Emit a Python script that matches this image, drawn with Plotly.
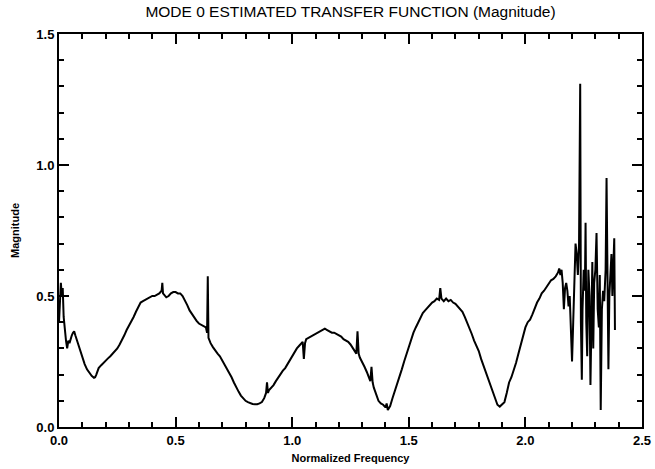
import plotly.graph_objects as go

# Normalized frequency samples and estimated transfer-function magnitude
freq = [
    0.000, 0.004, 0.008, 0.012, 0.016, 0.020, 0.025, 0.030, 0.035, 0.040,
    0.045, 0.050, 0.055, 0.060, 0.065, 0.070, 0.080, 0.090, 0.100, 0.110,
    0.120, 0.130, 0.140, 0.150, 0.155, 0.160, 0.170, 0.180, 0.190, 0.200,
    0.210, 0.220, 0.230, 0.240, 0.250, 0.260, 0.270, 0.280, 0.290, 0.300,
    0.310, 0.320, 0.330, 0.340, 0.350, 0.360, 0.370, 0.380, 0.390, 0.400,
    0.410, 0.420, 0.430, 0.440, 0.443, 0.446, 0.450, 0.460, 0.470, 0.480,
    0.490, 0.500, 0.510, 0.520, 0.530, 0.540, 0.550, 0.560, 0.570, 0.580,
    0.590, 0.600, 0.610, 0.620, 0.630, 0.635, 0.638, 0.641, 0.645, 0.650,
    0.660, 0.670, 0.680, 0.690, 0.700, 0.710, 0.720, 0.730, 0.740, 0.750,
    0.760, 0.770, 0.780, 0.790, 0.800, 0.810, 0.820, 0.830, 0.840, 0.850,
    0.860, 0.870, 0.880, 0.888, 0.892, 0.896, 0.900, 0.910, 0.920, 0.930,
    0.940, 0.950, 0.960, 0.970, 0.980, 0.990, 1.000, 1.010, 1.020, 1.030,
    1.040, 1.045, 1.050, 1.055, 1.060, 1.070, 1.080, 1.090, 1.100, 1.110,
    1.120, 1.130, 1.140, 1.150, 1.160, 1.170, 1.180, 1.190, 1.200, 1.210,
    1.220, 1.230, 1.240, 1.250, 1.260, 1.270, 1.275, 1.280, 1.285, 1.290,
    1.300, 1.310, 1.320, 1.330, 1.335, 1.340, 1.345, 1.350, 1.360, 1.370,
    1.380, 1.390, 1.400, 1.405, 1.410, 1.420, 1.430, 1.440, 1.450, 1.460,
    1.470, 1.480, 1.490, 1.500, 1.510, 1.520, 1.530, 1.540, 1.550, 1.560,
    1.570, 1.580, 1.590, 1.600, 1.610, 1.620, 1.630, 1.635, 1.640, 1.650,
    1.660, 1.670, 1.680, 1.690, 1.700, 1.710, 1.720, 1.730, 1.740, 1.750,
    1.760, 1.770, 1.780, 1.790, 1.800, 1.810, 1.820, 1.830, 1.840, 1.850,
    1.860, 1.870, 1.880, 1.890, 1.900, 1.910, 1.920, 1.930, 1.940, 1.950,
    1.960, 1.970, 1.980, 1.990, 2.000, 2.010, 2.020, 2.030, 2.040, 2.050,
    2.060, 2.070, 2.080, 2.090, 2.100, 2.110, 2.120, 2.130, 2.140, 2.145,
    2.150, 2.155, 2.160, 2.165, 2.170, 2.175, 2.180, 2.185, 2.190, 2.195,
    2.200, 2.205, 2.210, 2.215, 2.220, 2.225, 2.230, 2.235, 2.238, 2.242,
    2.245, 2.250, 2.255, 2.258, 2.261, 2.265, 2.270, 2.275, 2.279, 2.283,
    2.287, 2.291, 2.295, 2.300, 2.305, 2.310, 2.315, 2.319, 2.323, 2.328,
    2.333, 2.338, 2.344, 2.348, 2.352, 2.356, 2.360, 2.365, 2.369, 2.373,
    2.378, 2.381, 2.384,
]

magnitude = [
    0.400, 0.520, 0.550, 0.500, 0.530, 0.420, 0.360, 0.330, 0.300, 0.330,
    0.320, 0.340, 0.350, 0.360, 0.365, 0.350, 0.320, 0.290, 0.260, 0.240,
    0.220, 0.205, 0.195, 0.188, 0.190, 0.200, 0.225, 0.235, 0.245, 0.255,
    0.262, 0.270, 0.280, 0.290, 0.300, 0.315, 0.330, 0.350, 0.370, 0.385,
    0.400, 0.420, 0.440, 0.460, 0.475, 0.480, 0.485, 0.490, 0.495, 0.500,
    0.500, 0.505, 0.510, 0.520, 0.550, 0.510, 0.505, 0.495, 0.500, 0.510,
    0.515, 0.515, 0.510, 0.510, 0.500, 0.485, 0.465, 0.445, 0.430, 0.415,
    0.405, 0.395, 0.390, 0.385, 0.380, 0.360, 0.575, 0.340, 0.330, 0.320,
    0.305, 0.290, 0.280, 0.270, 0.255, 0.235, 0.220, 0.205, 0.190, 0.170,
    0.150, 0.135, 0.120, 0.110, 0.100, 0.095, 0.090, 0.088, 0.087, 0.087,
    0.090, 0.095, 0.110, 0.130, 0.170, 0.130, 0.140, 0.150, 0.160, 0.175,
    0.190, 0.200, 0.215, 0.225, 0.240, 0.260, 0.275, 0.290, 0.300, 0.310,
    0.320, 0.325, 0.260, 0.320, 0.335, 0.340, 0.345, 0.350, 0.355, 0.360,
    0.365, 0.370, 0.375, 0.370, 0.365, 0.360, 0.360, 0.355, 0.350, 0.345,
    0.335, 0.330, 0.325, 0.315, 0.300, 0.290, 0.280, 0.365, 0.280, 0.265,
    0.250, 0.230, 0.210, 0.190, 0.175, 0.230, 0.170, 0.150, 0.120, 0.100,
    0.090, 0.085, 0.075, 0.090, 0.065, 0.080, 0.110, 0.140, 0.165, 0.190,
    0.220, 0.250, 0.280, 0.310, 0.335, 0.360, 0.380, 0.400, 0.420, 0.435,
    0.445, 0.455, 0.465, 0.475, 0.480, 0.490, 0.485, 0.530, 0.490, 0.480,
    0.490, 0.480, 0.485, 0.475, 0.470, 0.460, 0.450, 0.440, 0.420, 0.400,
    0.380, 0.355, 0.330, 0.310, 0.290, 0.260, 0.235, 0.210, 0.185, 0.160,
    0.135, 0.110, 0.085, 0.078, 0.085, 0.095, 0.130, 0.170, 0.190, 0.215,
    0.245, 0.280, 0.315, 0.350, 0.380, 0.400, 0.410, 0.430, 0.455, 0.475,
    0.490, 0.510, 0.520, 0.535, 0.545, 0.560, 0.565, 0.575, 0.590, 0.605,
    0.580, 0.600, 0.550, 0.450, 0.530, 0.550, 0.520, 0.460, 0.500, 0.400,
    0.250, 0.400, 0.620, 0.700, 0.660, 0.580, 0.700, 1.310, 0.400, 0.180,
    0.450, 0.600, 0.520, 0.780, 0.400, 0.270, 0.600, 0.500, 0.160, 0.450,
    0.630, 0.300, 0.550, 0.600, 0.740, 0.450, 0.380, 0.580, 0.065, 0.450,
    0.520, 0.480, 0.600, 0.950, 0.450, 0.220, 0.500, 0.620, 0.660, 0.500,
    0.600, 0.720, 0.370,
]

x_ticks = [0.0, 0.5, 1.0, 1.5, 2.0, 2.5]
y_ticks = [0.0, 0.5, 1.0, 1.5]

label_font = dict(family="Liberation Sans, Arial, sans-serif", color="black")

fig = go.Figure(
    go.Scatter(
        x=freq,
        y=magnitude,
        mode="lines",
        line=dict(color="black", width=2),
        showlegend=False,
    )
)

axis_common = dict(
    showgrid=False,
    zeroline=False,
    showline=True,
    linecolor="black",
    linewidth=2,
    mirror="ticks",
    ticks="inside",
    ticklen=10,
    tickwidth=1.5,
    tickcolor="black",
    tickformat=".1f",
    automargin=False,
    minor=dict(ticks="inside", ticklen=5, tickwidth=1.5, tickcolor="black", dtick=0.1, showgrid=False),
    tickfont=dict(size=13, weight="bold", **label_font),
)

fig.update_xaxes(
    range=[0, 2.5],
    tickvals=x_ticks,
    title=dict(text="Normalized Frequency", font=dict(size=11, weight="bold", **label_font), standoff=8),
    **axis_common,
)
fig.update_yaxes(
    range=[0, 1.5],
    tickvals=y_ticks,
    title=dict(text="Magnitude", font=dict(size=11, weight="bold", **label_font), standoff=14),
    **axis_common,
)

fig.update_layout(
    width=655,
    height=469,
    margin=dict(l=59, r=13, t=34, b=42),
    paper_bgcolor="white",
    plot_bgcolor="white",
    title=dict(
        text="MODE 0 ESTIMATED TRANSFER FUNCTION (Magnitude)",
        font=dict(size=15.5, **label_font),
        x=0.5,
        xref="paper",
        y=0.975,
        yanchor="middle",
    ),
)

fig.write_html("out.html")
